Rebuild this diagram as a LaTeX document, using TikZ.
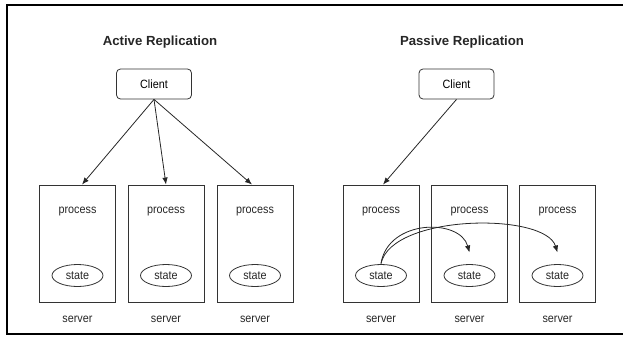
\documentclass[tikz,border=0pt]{standalone}
\usepackage{fontspec}
\setmainfont{Liberation Sans}
\newfontfamily\narrowfont[FakeStretch=0.9]{Liberation Sans}
\usetikzlibrary{arrows.meta,shapes.geometric}
\begin{document}
\begin{tikzpicture}[x=1pt,y=-1pt,
  srvbox/.style={draw=black!80,line width=0.9pt,minimum width=76pt,minimum height=117pt,inner sep=0pt},
  clientbox/.style={draw=black!80,line width=0.8pt,rounded corners=4pt,minimum width=75pt,minimum height=30pt,inner sep=0pt,font=\narrowfont\fontsize{12}{14}\selectfont},
  stateline/.style={draw=black!80,line width=0.8pt},
  lbl/.style={inner sep=0pt,font=\narrowfont\fontsize{12}{14}\selectfont,text=black!85},
  ttl/.style={inner sep=0pt,font=\bfseries\fontsize{13.2}{15}\selectfont,text=black!85},
  arr/.style={line width=0.8pt,draw=black!85,-{Latex[length=7pt,width=5.5pt]}}
]
\useasboundingbox (0,0) rectangle (623,345);
% frame
\draw[line width=2pt] (623,5) -- (7,5) -- (7,334) -- (623,334);

% titles
\node[ttl] (t1) at (160,42) {Active Replication};
\node[ttl] (t2) at (462,42) {Passive Replication};

% clients
\node[clientbox] (c1) at (154,84) {Client};
\node[clientbox] (c2) at (456.5,84) {Client};

% servers
\foreach \n/\x in {a1/77.5,a2/166,a3/255,p1/381,p2/469.5,p3/557.5}{
  \node[srvbox] (\n) at (\x,243.5) {};
  \node[lbl] (\n proc) at (\x,212) {process};
  \node[lbl] (\n st) at (\x,275.5) {state};
  \draw[stateline] (\n st.center) ellipse [x radius=25.5, y radius=11];
  \node[lbl] (\n srv) at (\x,319) {server};
}

% active arrows
\draw[arr] (c1.south) -- ([xshift=4.5pt]a1.north);
\draw[arr] (c1.south) -- (a2.north);
\draw[arr] (c1.south) -- ([xshift=-3pt]a3.north);

% passive arrows
\draw[arr] (c2.south) -- ([xshift=2pt]p1.north);
\coordinate (s0) at ([yshift=12pt]p1st.center);
\coordinate (e1) at ([yshift=23pt]p2st.center);
\coordinate (e2) at ([yshift=23pt]p3st.center);
\draw[arr] (s0) .. controls (388,219) and (460,218) .. (e1);
\draw[arr] (s0) .. controls (392,214) and (545,212) .. (e2);
\end{tikzpicture}
\end{document}
